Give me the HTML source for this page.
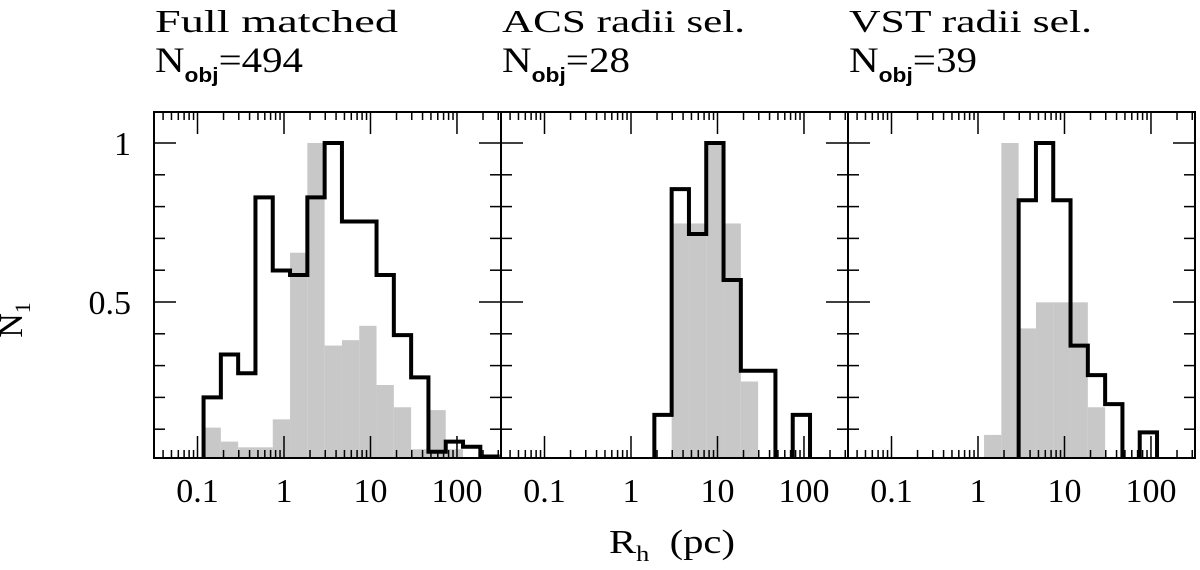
<!DOCTYPE html>
<html><head><meta charset="utf-8"><style>
html,body{margin:0;padding:0;background:#fff;}
svg{display:block;}
text{font-family:"Liberation Serif",serif;fill:#000;}
</style></head><body>
<svg id="chart" width="1200" height="570" viewBox="0 0 1200 570" xmlns="http://www.w3.org/2000/svg">
<g id="root"></g>
</svg>
<script>
// bin edges: log10(R_h) = edgeStart + binWidth*k
const edgeStart = -0.93;
const binWidth = 0.2;
const panelTitles = ["Full matched", "ACS radii sel.", "VST radii sel."];
const panelCounts = ["494", "28", "39"];
const xTickLabels = ["0.1", "1", "10", "100"];
const xTickValues = [0.1, 1, 10, 100];
const yTickLabels = ["0.5", "1"];
const yTickValues = [0.5, 1];
// black outline histograms
const blackFull = [0.20,0.335,0.276,0.829,0.599,0.585,0.829,1.0,0.753,0.753,0.585,0.396,0.263,0.029,0.061,0.045,0.014];
const blackACS  = [0,0,0,0,0,0,0.145,0.855,0.714,1.0,0.569,0.284,0.284,0,0.145];
const blackVST  = [0,0,0,0,0,0,0,0.82,1.0,0.82,0.363,0.27,0.179,0,0.09];
// gray filled histograms
const grayFull = [0.105,0.061,0.043,0.043,0.131,0.655,1.0,0.363,0.38,0.425,0.239,0.169,0.037,0.16,0.037];
const grayACS  = [0,0,0,0,0,0,0,0.747,0.747,1.0,0.747,0.25];
const grayVST  = [0,0,0,0,0,0.082,1.0,0.417,0.499,0.499,0.499,0.169];

const NS = "http://www.w3.org/2000/svg";
const rootG = document.getElementById('root');
function mk(tag, attrs, parent){ const e=document.createElementNS(NS,tag); for(const k in attrs) e.setAttribute(k,attrs[k]); (parent||rootG).appendChild(e); return e; }

const panelW = 347, left0 = 154, plotTop = 112, plotBottom = 458;
const logMin = -1.503, logMax = 2.509;
const y0px = 461, y1px = 143;
function yScale(v){ return y0px - v*(y0px - y1px); }

const blacks=[blackFull,blackACS,blackVST], grays=[grayFull,grayACS,grayVST];
const panelNames=["full-matched","acs-radii-sel","vst-radii-sel"];
const countWidths=[148,128,128];

for(let p=0;p<3;p++){
  const L = left0 + p*panelW, R = L + panelW;
  const xScale = lg => L + (lg - logMin)/(logMax-logMin)*panelW;
  const g = mk('g',{});
  
  
  const clipId='clip'+p;
  const cp = mk('clipPath',{id:clipId},g); mk('rect',{x:L,y:plotTop,width:panelW,height:plotBottom-plotTop},cp);
  const gg = mk('g',{'clip-path':'url(#'+clipId+')'},g);
  grays[p].forEach((v,k)=>{
    if(v<=0) return;
    const x1=xScale(edgeStart+binWidth*k), x2=xScale(edgeStart+binWidth*(k+1));
    const r=mk('rect',{x:x1,y:yScale(v),width:x2-x1,height:y0px-yScale(v),fill:'#c8c8c8'},gg);
    
    
  });
  const b = blacks[p];
  let first=b.findIndex(v=>v>0), last=b.length-1; while(last>0&&b[last]<=0) last--;
  let d='M'+xScale(edgeStart+binWidth*first)+' '+y0px;
  for(let k=first;k<=last;k++){
    const x1=xScale(edgeStart+binWidth*k), x2=xScale(edgeStart+binWidth*(k+1)), y=yScale(b[k]);
    d+=' L'+x1+' '+y+' L'+x2+' '+y;
  }
  d+=' L'+xScale(edgeStart+binWidth*(last+1))+' '+y0px;
  const path=mk('path',{d:d,fill:'none',stroke:'#000','stroke-width':4,'stroke-linejoin':'miter'},gg);
  
  
  const fr=mk('rect',{x:L,y:plotTop,width:panelW,height:plotBottom-plotTop,fill:'none',stroke:'#000','stroke-width':2},g);
  
  
  for(let dec=-2; dec<=2; dec++){
    for(let m=1;m<=9;m++){
      const lg = dec + Math.log10(m);
      if(lg<logMin||lg>logMax) continue;
      const x=xScale(lg), len = m===1?22:8;
      mk('line',{x1:x,y1:plotTop,x2:x,y2:plotTop+len,stroke:'#000','stroke-width':1.5},g);
      mk('line',{x1:x,y1:plotBottom,x2:x,y2:plotBottom-len,stroke:'#000','stroke-width':1.5},g);
    }
  }
  xTickValues.forEach((v,i)=>{
    const t=mk('text',{x:xScale(Math.log10(v)),y:502,'font-size':34,'text-anchor':'middle'},g);
    t.textContent=xTickLabels[i];
    
    
  });
  for(let i=1;i<=10;i++){
    const v=i/10, y=yScale(v), len=(i%5===0)?22:11;
    mk('line',{x1:L,y1:y,x2:L+len,y2:y,stroke:'#000','stroke-width':1.5},g);
    mk('line',{x1:R,y1:y,x2:R-len,y2:y,stroke:'#000','stroke-width':1.5},g);
  }
  const t1=mk('text',{x:L+1,y:32,'font-size':32,textLength:243,lengthAdjust:'spacingAndGlyphs'},g);
  t1.textContent=panelTitles[p];
  
  
  const t2=mk('text',{x:L+1,y:72,'font-size':36,textLength:countWidths[p],lengthAdjust:'spacingAndGlyphs'},g);
  
  
  const n=mk('tspan',{},t2); n.textContent='N';
  const s=mk('tspan',{dy:10,'font-size':20,'font-weight':'bold','font-family':'Liberation Sans, sans-serif'},t2); s.textContent='obj';
  const e=mk('tspan',{dy:-10},t2); e.textContent='='+panelCounts[p];
}
yTickValues.forEach((v,i)=>{
  const t=mk('text',{x:131,y:yScale(v)+12,'font-size':34,'text-anchor':'end'});
  t.textContent=yTickLabels[i];
  
  
});
const yt=mk('text',{x:0,y:0,'font-size':34,transform:'translate(22,320) rotate(-90)','text-anchor':'middle'});


mk('tspan',{},yt).textContent='N';
mk('tspan',{dy:8,'font-size':22},yt).textContent='1';
const xt=mk('text',{x:609,y:553,'font-size':34,textLength:126,lengthAdjust:'spacingAndGlyphs'});


mk('tspan',{},xt).textContent='R';
mk('tspan',{dy:8,'font-size':22},xt).textContent='h';
mk('tspan',{dy:-8},xt).textContent='\u00a0\u00a0(pc)';
</script>
</body></html>
